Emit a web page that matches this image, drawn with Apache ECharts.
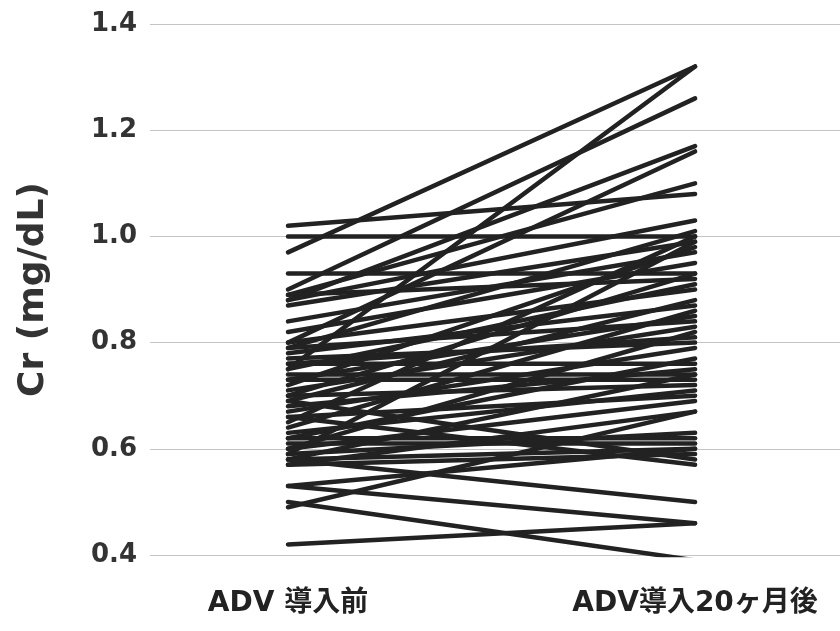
<!DOCTYPE html>
<html>
<head>
<meta charset="utf-8">
<script src="https://cdn.jsdelivr.net/npm/echarts@6/dist/echarts.min.js"></script>
<style>
  html, body { margin: 0; padding: 0; background: #fff; }
  #chart { width: 840px; height: 631px; }
</style>
</head>
<body>
<div id="chart"></div>
<script>
// Serum creatinine per patient, before ADV and after 20 months of ADV
const timepoints = ['ADV 導入前', 'ADV導入20ヶ月後'];
const yTicks = [0.4, 0.6, 0.8, 1.0, 1.2, 1.4];

const crBefore = [
  1.02, 1.00, 0.97, 0.90, 0.89, 0.93, 0.88, 0.75, 0.80, 0.89,
  0.88, 0.87, 0.84, 0.82, 0.80, 0.79, 0.78, 0.77, 0.76, 0.75,
  0.74, 0.73, 0.73, 0.72, 0.71, 0.70, 0.70, 0.69, 0.68, 0.67,
  0.66, 0.65, 0.64, 0.63, 0.62, 0.62, 0.61, 0.60, 0.60, 0.59,
  0.59, 0.58, 0.58, 0.57, 0.57, 0.53, 0.53, 0.50, 0.49, 0.42,
  0.58, 0.76, 0.69, 0.79, 0.66
];
const crAfter = [
  1.08, 1.00, 1.32, 1.26, 1.10, 0.93, 1.17, 1.32, 1.16, 0.92,
  1.03, 0.99, 0.97, 0.95, 0.90, 1.01, 0.87, 0.80, 0.76, 0.91,
  0.74, 0.85, 0.73, 0.98, 0.83, 0.72, 0.93, 0.88, 0.75, 0.79,
  0.70, 1.00, 0.86, 0.71, 0.62, 0.77, 0.61, 0.82, 0.69, 0.63,
  0.99, 0.74, 0.60, 0.67, 0.59, 0.60, 0.46, 0.39, 0.67, 0.46,
  0.50, 0.81, 0.58, 0.84, 0.57
];

const chart = echarts.init(document.getElementById('chart'), null, { renderer: 'canvas' });

const series = crBefore.map((v, i) => ({
  type: 'line',
  data: [[0, v], [1, crAfter[i]]],
  symbol: 'none',
  silent: true,
  lineStyle: { color: '#222', width: 4.5, cap: 'round' },
  z: 3
}));

chart.setOption({
  animation: false,
  backgroundColor: '#fff',
  grid: { left: 150, right: 0, top: 24, bottom: 76 },
  xAxis: {
    type: 'value',
    min: -0.339,
    max: 1.356,
    splitLine: { show: false },
    axisLine: { show: false },
    axisTick: { show: false },
    axisLabel: {
      customValues: [0, 1],
      formatter: (v) => timepoints[Math.round(v)],
      margin: 35,
      fontFamily: '"DejaVu Sans", "Noto Sans CJK JP", sans-serif',
      fontWeight: 'bold',
      fontSize: 28,
      color: '#222'
    }
  },
  yAxis: {
    type: 'value',
    min: yTicks[0],
    max: yTicks[yTicks.length - 1],
    interval: 0.2,
    name: 'Cr (mg/dL)',
    nameLocation: 'middle',
    nameGap: 98,
    nameTextStyle: {
      fontFamily: '"DejaVu Sans", sans-serif',
      fontWeight: 'bold',
      fontSize: 36,
      color: '#333'
    },
    axisLine: { show: false },
    axisTick: { show: false },
    axisLabel: {
      margin: 13,
      formatter: (v) => v.toFixed(1),
      fontFamily: '"DejaVu Sans", sans-serif',
      fontWeight: 'bold',
      fontSize: 26,
      color: '#333'
    },
    splitLine: { lineStyle: { color: '#c4c4c4', width: 1 } }
  },
  series: series
});
</script>
</body>
</html>
